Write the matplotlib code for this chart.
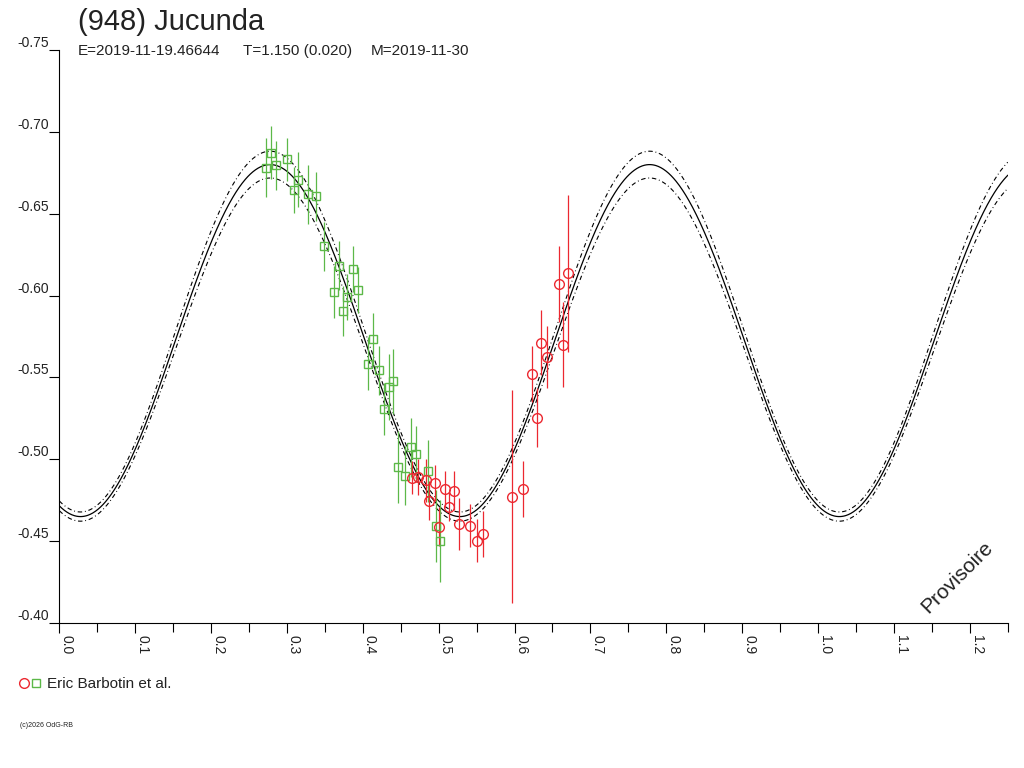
import numpy as np
import matplotlib.pyplot as plt
from matplotlib.lines import Line2D
from matplotlib.ticker import MultipleLocator

plt.rcParams['font.family'] = ['Liberation Sans', 'DejaVu Sans']

# Session 1 (green squares): phase, reduced magnitude, error
green_phase = [0.2789, 0.2727, 0.2855, 0.3000, 0.3145, 0.3087, 0.3281, 0.3382,
               0.3491, 0.3680, 0.3623, 0.3874, 0.3935, 0.3798, 0.3742, 0.4141,
               0.4067, 0.4212, 0.4343, 0.4396, 0.4273, 0.4642, 0.4695, 0.4462,
               0.4559, 0.4862, 0.4971, 0.5020]
green_mag = [-0.6873, -0.6781, -0.6796, -0.6832, -0.6708, -0.6645, -0.6619, -0.6606,
             -0.6301, -0.6182, -0.6020, -0.6160, -0.6036, -0.5993, -0.5906, -0.5735,
             -0.5584, -0.5545, -0.5443, -0.5476, -0.5309, -0.5073, -0.5034, -0.4955,
             -0.4900, -0.4930, -0.4594, -0.4502]
green_err = [0.016, 0.018, 0.015, 0.013, 0.017, 0.014, 0.018, 0.015,
             0.015, 0.015, 0.016, 0.014, 0.014, 0.014, 0.015, 0.016,
             0.016, 0.015, 0.020, 0.020, 0.016, 0.018, 0.017, 0.022,
             0.018, 0.019, 0.022, 0.025]

# Session 2 (red circles)
red_phase = [0.4655, 0.4726, 0.4831, 0.4958, 0.5082, 0.5208, 0.4879, 0.5142,
             0.5003, 0.5270, 0.5419, 0.5511, 0.5582, 0.5962, 0.6117, 0.6225,
             0.6291, 0.6350, 0.6430, 0.6584, 0.6644, 0.6710]
red_mag = [-0.4887, -0.4893, -0.4871, -0.4855, -0.4818, -0.4808, -0.4747, -0.4710,
           -0.4588, -0.4604, -0.4594, -0.4503, -0.4543, -0.4771, -0.4820, -0.5521,
           -0.5254, -0.5712, -0.5627, -0.6071, -0.5700, -0.6136]
red_err = [0.010, 0.011, 0.013, 0.011, 0.011, 0.012, 0.012, 0.009,
           0.012, 0.016, 0.013, 0.013, 0.014, 0.065, 0.017, 0.017,
           0.018, 0.020, 0.019, 0.023, 0.026, 0.048]

# fit (2nd harmonic) and its envelope
fit_mean = -0.5725
fit_amp = 0.1075
fit_peak = 0.278
env_offset = 0.0055
env_scale = 0.025

green = '#5cb848'
red = '#ec2830'
txt = '#222222'

fig = plt.figure(figsize=(10.24, 7.68), dpi=100)
ax = fig.add_axes([0.0579, 0.1888, 0.9262, 0.7461])

ph = np.linspace(0, 1.25, 1500)
model = fit_mean - fit_amp * np.cos(4 * np.pi * (ph - fit_peak))
ax.plot(ph, model, color='black', lw=0.9, zorder=2)
for s in (1, -1):
    delta = env_offset - env_scale * (model - fit_mean)
    ax.plot(ph, model + s * delta, color='black',
            lw=0.8, dashes=(4, 2.5, 0.8, 2.5), zorder=2)

ax.errorbar(green_phase, green_mag, yerr=green_err, fmt='s', ms=5.5, mfc='none',
            mec=green, mew=1.0, ecolor=green, elinewidth=0.9, capsize=0, zorder=3)
ax.errorbar(red_phase, red_mag, yerr=red_err, fmt='o', ms=7, mfc='none',
            mec=red, mew=1.0, ecolor=red, elinewidth=0.9, capsize=0, zorder=3)

ax.set_xlim(0, 1.25)
ax.set_ylim(-0.40, -0.75)

xt = np.arange(0, 1.21, 0.1)
ax.set_xticks(xt, labels=['%.1f' % v for v in xt], rotation=270, ha='left', va='top')
ax.xaxis.set_minor_locator(MultipleLocator(0.05))
yt = np.arange(-0.75, -0.399, 0.05)
ax.set_yticks(yt, labels=['%.2f' % v for v in yt], va='bottom')

ax.tick_params(axis='x', which='major', length=7.5, width=0.8, pad=1,
               labelsize=10, labelcolor=txt)
ax.tick_params(axis='x', which='minor', length=6.5, width=0.8)
ax.tick_params(axis='y', length=7.5, width=0.8, pad=0, labelsize=10, labelcolor=txt)
for sp in ('top', 'right'):
    ax.spines[sp].set_visible(False)
for sp in ('left', 'bottom'):
    ax.spines[sp].set_linewidth(0.8)

ax.text(1.184, -0.428, 'Provisoire', rotation=45, fontsize=15, color=txt,
        ha='center', va='center')

# header
fig.text(78 / 1024, 1 - 30 / 768, '(948) Jucunda', fontsize=21, color=txt, va='baseline')
fig.text(78 / 1024, 1 - 55 / 768, 'E=2019-11-19.46644', fontsize=11, color=txt, va='baseline')
fig.text(243 / 1024, 1 - 55 / 768, 'T=1.150 (0.020)', fontsize=11, color=txt, va='baseline')
fig.text(371 / 1024, 1 - 55 / 768, 'M=2019-11-30', fontsize=11, color=txt, va='baseline')

# legend
fig.add_artist(Line2D([24 / 1024], [1 - 683 / 768], transform=fig.transFigure,
                      marker='o', ms=7, mfc='none', mec=red, mew=1.0, ls='none'))
fig.add_artist(Line2D([36 / 1024], [1 - 683 / 768], transform=fig.transFigure,
                      marker='s', ms=5.5, mfc='none', mec=green, mew=1.0, ls='none'))
fig.text(47 / 1024, 1 - 688 / 768, 'Eric Barbotin et al.', fontsize=11, color=txt, va='baseline')

fig.text(20 / 1024, 1 - 727 / 768, '(c)2026 OdG-RB', fontsize=5, color=txt,
         va='baseline')

fig.savefig('out.png', dpi=100)
